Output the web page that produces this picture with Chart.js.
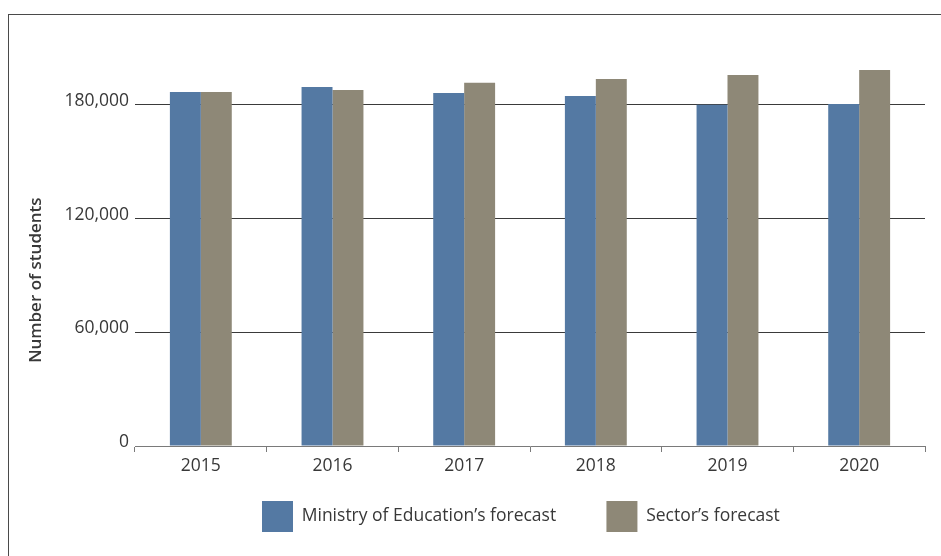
<!DOCTYPE html>
<html>
<head>
<meta charset="utf-8">
<script src="https://cdn.jsdelivr.net/npm/chart.js@4"></script>
<style>
  html, body { margin: 0; padding: 0; background: #fff; overflow: hidden; }
  #wrap { position: relative; width: 941px; height: 556px; }
  #frame { position: absolute; left: 8px; top: 14px; width: 1000px; height: 600px;
           border-left: 1px solid #4a4a4a; border-top: 1px solid #4a4a4a; pointer-events: none; }
  canvas { position: absolute; left: 0; top: 0; }
</style>
</head>
<body>
<div id="wrap">
  <canvas id="c" width="941" height="556"></canvas>
  <div id="frame"></div>
</div>
<script>
const years = ['2015', '2016', '2017', '2018', '2019', '2020'];
const ministryForecast = [186800, 189400, 186300, 184700, 180100, 180500];
const sectorForecast   = [186800, 187900, 191600, 193700, 195800, 198400];
const yTickValues = [0, 60000, 120000, 180000];
const seriesNames = ['Ministry of Education\u2019s forecast', 'Sector\u2019s forecast'];
const yTitle = 'Number of students';

const FONT = '"Open Sans", "Noto Sans", sans-serif';
const TEXT = '#383838';
const NB = '\u00a0';

new Chart(document.getElementById('c'), {
  type: 'bar',
  data: {
    labels: years,
    datasets: [
      { label: seriesNames[0] + NB.repeat(6), data: ministryForecast, backgroundColor: '#5479a3', borderWidth: 0,
        categoryPercentage: 0.47, barPercentage: 1.0 },
      { label: seriesNames[1] + NB.repeat(4), data: sectorForecast, backgroundColor: '#8e8877', borderWidth: 0,
        categoryPercentage: 0.47, barPercentage: 1.0 }
    ]
  },
  options: {
    responsive: false,
    animation: false,
    layout: { padding: { left: 26, right: 16, top: 48, bottom: 14 } },
    plugins: {
      tooltip: { enabled: false },
      legend: {
        position: 'bottom',
        fullSize: false,
        labels: {
          boxWidth: 31, boxHeight: 31, padding: 23,
          color: TEXT, font: { family: FONT, size: 17.5 }
        }
      }
    },
    scales: {
      x: {
        afterFit: s => { s.height = 32; },
        grid: { drawOnChartArea: false, drawTicks: true, tickLength: 6, color: '#7a7a7a', offset: true },
        border: { display: true, color: '#7a7a7a', width: 1 },
        ticks: { color: TEXT, font: { family: FONT, size: 17.5 }, padding: 4 }
      },
      y: {
        min: 0, max: 210000,
        afterBuildTicks: s => { s.ticks = yTickValues.map(v => ({ value: v })); },
        afterFit: s => { s.width = 109; },
        grid: { drawTicks: false, color: ctx => ctx.tick && ctx.tick.value === 0 ? 'rgba(0,0,0,0)' : '#3a3a3a', lineWidth: 1 },
        border: { display: false },
        ticks: {
          color: TEXT, font: { family: FONT, size: 17.5 }, padding: 6, labelOffset: -4,
          callback: v => v.toLocaleString('en-US')
        },
        title: { display: true, text: yTitle + NB.repeat(15), color: TEXT,
                 font: { family: FONT, size: 17, weight: '600' }, padding: 0 }
      }
    }
  }
});
</script>
</body>
</html>
